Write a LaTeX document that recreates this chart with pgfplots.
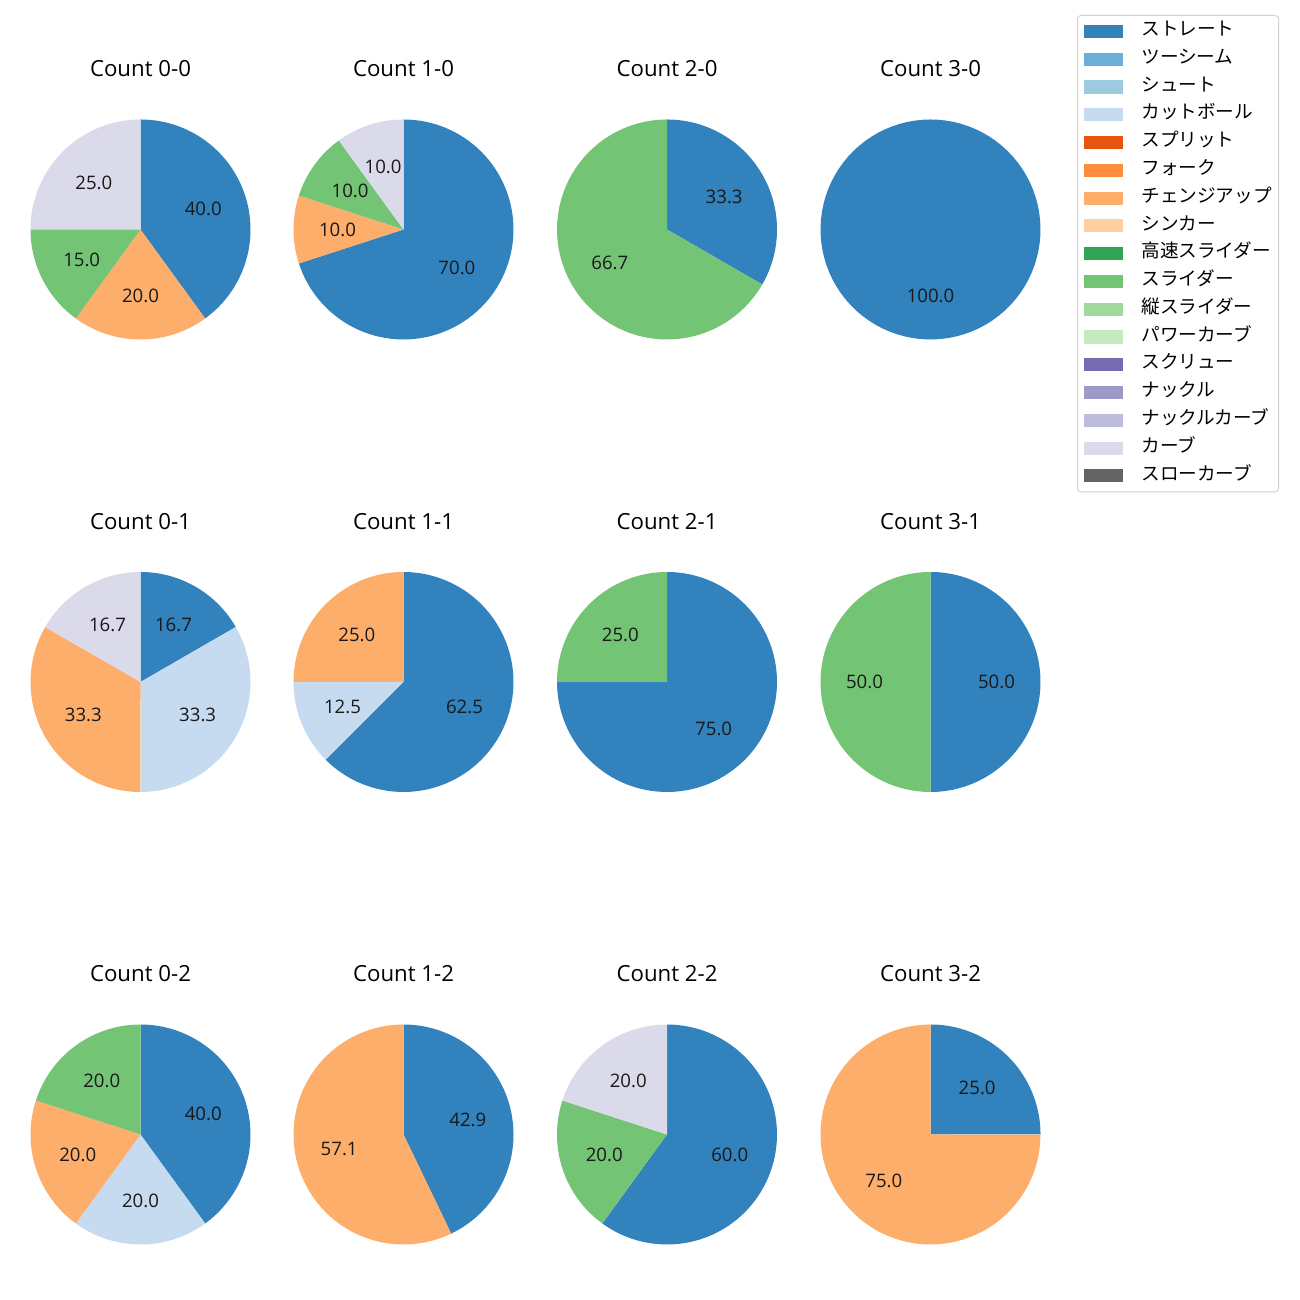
\documentclass[border=0pt]{standalone}
\usepackage{pgfplots}
\pgfplotsset{compat=1.18}
\usepackage{fontspec}
\setmainfont{Noto Sans CJK JP}
\newfontfamily\lat{Open Sans}
\definecolor{c1}{HTML}{3182BD}
\definecolor{c2}{HTML}{6BAED6}
\definecolor{c3}{HTML}{9ECAE1}
\definecolor{c4}{HTML}{C6DBEF}
\definecolor{c5}{HTML}{E6550D}
\definecolor{c6}{HTML}{FD8D3C}
\definecolor{c7}{HTML}{FDAE6B}
\definecolor{c8}{HTML}{FDD0A2}
\definecolor{c9}{HTML}{31A354}
\definecolor{c10}{HTML}{74C476}
\definecolor{c11}{HTML}{A1D99B}
\definecolor{c12}{HTML}{C7E9C0}
\definecolor{c13}{HTML}{756BB1}
\definecolor{c14}{HTML}{9E9AC8}
\definecolor{c15}{HTML}{BCBDDC}
\definecolor{c16}{HTML}{DADAEB}
\definecolor{c17}{HTML}{636363}
\newcommand\fs{\fontsize{13.4}{16}\selectfont}
\newcommand\ft{\lat\fontsize{16}{19}\selectfont}
% start (percent), value (percent), colour
\newcommand\pwedge[3]{%
  \addplot[fill=#3, draw=none, domain=90-3.6*(#1+#2):90-3.6*#1, samples=90]
    ({cos(x)},{sin(x)}) -- (axis cs:0,0) -- cycle;
  \node[font=\lat\fs, text=black!90] at (axis cs:{0.6*cos(90-3.6*(#1+#2/2))},{0.6*sin(90-3.6*(#1+#2/2))})
    {\pgfmathprintnumber[assume math mode=true,fixed,fixed zerofill,precision=1]{#2}};
}
\pgfplotsset{pie/.style={hide axis, scale only axis, width=158.4pt, height=158.4pt,
  xmin=-1, xmax=1, ymin=-1, ymax=1, anchor=center, clip=false}}
\newcommand\ptitle[1]{\node[font=\ft] at (axis cs:0,1.46) {#1};}
\begin{document}
\begin{tikzpicture}
\useasboundingbox (0,0) rectangle (936pt,936pt);
% row 1
\begin{axis}[pie, at={({140.5*0.72pt},{(1300-229.5)*0.72pt})}]
\pwedge{0}{40}{c1}\pwedge{40}{20}{c7}\pwedge{60}{15}{c10}\pwedge{75}{25}{c16}
\ptitle{Count 0-0}
\end{axis}
\begin{axis}[pie, at={({403.5*0.72pt},{(1300-229.5)*0.72pt})}]
\pwedge{0}{70}{c1}\pwedge{70}{10}{c7}\pwedge{80}{10}{c10}\pwedge{90}{10}{c16}
\ptitle{Count 1-0}
\end{axis}
\begin{axis}[pie, at={({667*0.72pt},{(1300-229.5)*0.72pt})}]
\pwedge{0}{33.33}{c1}\pwedge{33.33}{66.67}{c10}
\ptitle{Count 2-0}
\end{axis}
\begin{axis}[pie, at={({930.5*0.72pt},{(1300-229.5)*0.72pt})}]
\pwedge{0}{100}{c1}
\ptitle{Count 3-0}
\end{axis}
% row 2
\begin{axis}[pie, at={({140.5*0.72pt},{(1300-682)*0.72pt})}]
\pwedge{0}{16.67}{c1}\pwedge{16.67}{33.33}{c4}\pwedge{50}{33.33}{c7}\pwedge{83.33}{16.67}{c16}
\ptitle{Count 0-1}
\end{axis}
\begin{axis}[pie, at={({403.5*0.72pt},{(1300-682)*0.72pt})}]
\pwedge{0}{62.5}{c1}\pwedge{62.5}{12.5}{c4}\pwedge{75}{25}{c7}
\ptitle{Count 1-1}
\end{axis}
\begin{axis}[pie, at={({667*0.72pt},{(1300-682)*0.72pt})}]
\pwedge{0}{75}{c1}\pwedge{75}{25}{c10}
\ptitle{Count 2-1}
\end{axis}
\begin{axis}[pie, at={({930.5*0.72pt},{(1300-682)*0.72pt})}]
\pwedge{0}{50}{c1}\pwedge{50}{50}{c10}
\ptitle{Count 3-1}
\end{axis}
% row 3
\begin{axis}[pie, at={({140.5*0.72pt},{(1300-1134.5)*0.72pt})}]
\pwedge{0}{40}{c1}\pwedge{40}{20}{c4}\pwedge{60}{20}{c7}\pwedge{80}{20}{c10}
\ptitle{Count 0-2}
\end{axis}
\begin{axis}[pie, at={({403.5*0.72pt},{(1300-1134.5)*0.72pt})}]
\pwedge{0}{42.86}{c1}\pwedge{42.86}{57.14}{c7}
\ptitle{Count 1-2}
\end{axis}
\begin{axis}[pie, at={({667*0.72pt},{(1300-1134.5)*0.72pt})}]
\pwedge{0}{60}{c1}\pwedge{60}{20}{c10}\pwedge{80}{20}{c16}
\ptitle{Count 2-2}
\end{axis}
\begin{axis}[pie, at={({930.5*0.72pt},{(1300-1134.5)*0.72pt})}]
\pwedge{0}{25}{c1}\pwedge{25}{75}{c7}
\ptitle{Count 3-2}
\end{axis}
% legend
\begin{axis}[hide axis, scale only axis, width=936pt, height=936pt, at={(0,0)}, anchor=south west,
  xmin=0, xmax=1, ymin=0, ymax=1,
  legend image code/.code={\fill[#1, sharp corners] (0pt,-4.7pt) rectangle (28pt,4.7pt);},
  legend cell align=left,
  legend style={at={(0.82846,0.98846)}, anchor=north west, draw=black!18, line width=0.7pt,
    rounded corners=2.5pt, fill=white, font=\fs, inner xsep=5pt, inner ysep=5.5pt,
    row sep=8pt, column sep=13pt,
    nodes={inner sep=0pt, text height=9pt, text depth=3pt}}]
\addlegendimage{fill=c1, draw=none}\addlegendentry{ストレート}
\addlegendimage{fill=c2, draw=none}\addlegendentry{ツーシーム}
\addlegendimage{fill=c3, draw=none}\addlegendentry{シュート}
\addlegendimage{fill=c4, draw=none}\addlegendentry{カットボール}
\addlegendimage{fill=c5, draw=none}\addlegendentry{スプリット}
\addlegendimage{fill=c6, draw=none}\addlegendentry{フォーク}
\addlegendimage{fill=c7, draw=none}\addlegendentry{チェンジアップ}
\addlegendimage{fill=c8, draw=none}\addlegendentry{シンカー}
\addlegendimage{fill=c9, draw=none}\addlegendentry{高速スライダー}
\addlegendimage{fill=c10, draw=none}\addlegendentry{スライダー}
\addlegendimage{fill=c11, draw=none}\addlegendentry{縦スライダー}
\addlegendimage{fill=c12, draw=none}\addlegendentry{パワーカーブ}
\addlegendimage{fill=c13, draw=none}\addlegendentry{スクリュー}
\addlegendimage{fill=c14, draw=none}\addlegendentry{ナックル}
\addlegendimage{fill=c15, draw=none}\addlegendentry{ナックルカーブ}
\addlegendimage{fill=c16, draw=none}\addlegendentry{カーブ}
\addlegendimage{fill=c17, draw=none}\addlegendentry{スローカーブ}
\end{axis}
\end{tikzpicture}
\end{document}
